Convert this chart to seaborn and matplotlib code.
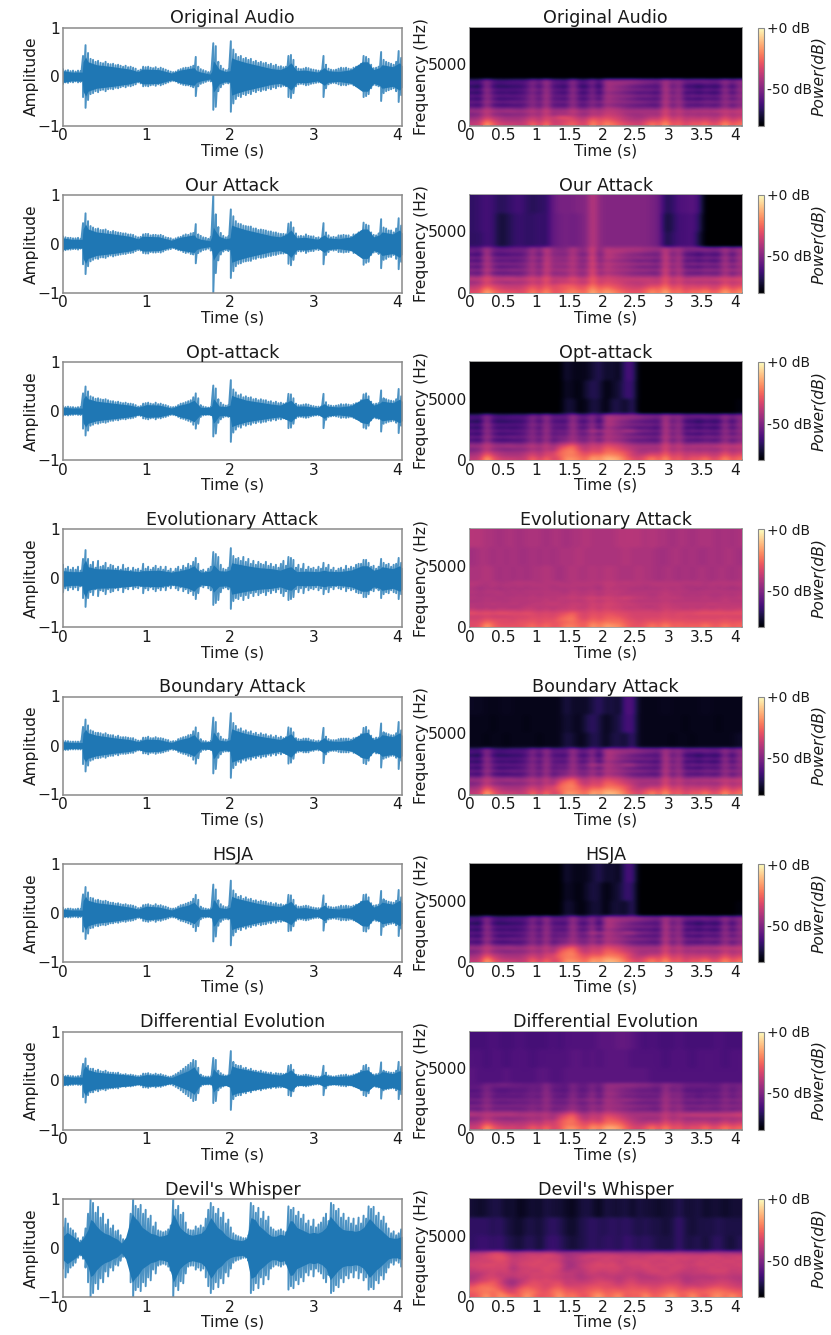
import numpy as np
import pandas as pd
import matplotlib
matplotlib.use("Agg")
import matplotlib.pyplot as plt
import seaborn as sns

W, H = 831, 1335
TITLES = ["Original Audio", "Our Attack", "Opt-attack", "Evolutionary Attack",
          "Boundary Attack", "HSJA", "Differential Evolution", "Devil's Whisper"]
ROW_TOPS = [27.5, 194.7, 362, 529.5, 696.5, 864, 1031.5, 1199]
WAVE_TICKS = [0, 1, 2, 3, 4]
SPEC_TICKS = [0, 0.5, 1, 1.5, 2, 2.5, 3, 3.5, 4]
SPEC_TICK_LABELS = ["0", "0.5", "1", "1.5", "2", "2.5", "3", "3.5", "4"]

# waveform: solid core half-height
WAVE_T = [0,.1,.2,.23,.24,.27,.3,.4,.6,.8,
          .9,.95,1.0,1.15,1.3,1.4,1.5,1.57,1.6,1.65,
          1.76,1.78,1.8,1.82,1.87,1.95,2.0,2.02,2.08,2.2,
          2.35,2.5,2.6,2.68,2.73,2.8,2.9,3.05,3.13,3.17,
          3.3,3.45,3.58,3.65,3.72,3.79,3.82,3.95,4.03,4.06]
ORIGINAL_CORE = [.12,.09,.09,.09,.30,.40,.30,.24,.20,.15, .10,.15,.15,.14,.07,.13,.16,.18,.12,.09,
                 .05,.10,.32,.28,.15,.10,.12,.38,.34,.28, .22,.16,.14,.20,.28,.12,.13,.09,.18,.12,
                 .10,.14,.30,.30,.14,.18,.24,.20,.28,.22]
OUR_CORE = [.12,.09,.09,.09,.30,.40,.30,.24,.20,.15, .10,.15,.15,.14,.07,.13,.16,.18,.12,.09,
            .06,.14,.34,.28,.15,.10,.12,.38,.34,.28, .22,.16,.14,.20,.28,.12,.13,.09,.18,.12,
            .10,.14,.30,.30,.14,.18,.24,.20,.28,.22]
OPT_CORE = [.08,.06,.06,.06,.24,.32,.25,.20,.16,.12, .08,.10,.13,.12,.06,.12,.16,.22,.16,.07,
            .08,.10,.25,.22,.10,.09,.12,.32,.28,.22, .18,.14,.12,.18,.22,.10,.10,.07,.15,.10,
            .08,.11,.24,.26,.12,.16,.20,.17,.24,.20]
EVO_CORE = [.16,.14,.14,.15,.28,.38,.24,.20,.19,.16, .14,.16,.16,.17,.13,.16,.20,.26,.20,.13,
            .15,.18,.28,.25,.16,.15,.18,.32,.30,.26, .22,.20,.17,.22,.24,.14,.15,.14,.17,.15,
            .14,.17,.26,.26,.17,.20,.24,.20,.26,.22]
BOUNDARY_CORE = [.08,.06,.06,.06,.25,.33,.26,.21,.16,.12, .08,.11,.13,.12,.06,.12,.16,.22,.16,.07,
                 .08,.11,.27,.24,.11,.09,.12,.34,.30,.24, .19,.15,.12,.19,.24,.10,.11,.07,.16,.10,
                 .08,.11,.25,.27,.12,.17,.22,.18,.26,.21]
HSJA_CORE = [.08,.06,.06,.06,.25,.34,.26,.21,.17,.12, .08,.11,.14,.12,.06,.12,.16,.22,.16,.07,
             .08,.11,.27,.25,.11,.09,.12,.34,.30,.25, .19,.15,.13,.19,.24,.10,.11,.07,.16,.10,
             .08,.11,.26,.27,.12,.17,.22,.18,.26,.21]
DE_CORE = [.10,.07,.07,.07,.22,.30,.22,.17,.14,.11, .08,.10,.12,.11,.06,.13,.20,.28,.20,.08,
           .07,.10,.24,.20,.12,.10,.14,.30,.26,.22, .17,.13,.11,.16,.22,.10,.10,.06,.13,.09,
           .08,.10,.20,.22,.11,.14,.18,.14,.20,.18]
DEVIL_T = [0,.05,.1,.15,.2,.25,.3,.33,.36,.4, .45,.5,.55,.6,.65,.7,.75,.8,.83,.86,
           .9,.95,1.0,1.05,1.1,1.15,1.2,1.25,1.3,1.32, 1.35,1.4,1.45,1.5,1.55,1.6,1.65,1.7,1.77,1.8,
           1.85,1.9,1.95,2.0,2.05,2.1,2.15,2.2,2.25,2.3, 2.35,2.4,2.45,2.5,2.55,2.6,2.65,2.72,2.75,2.8,
           2.85,2.9,2.95,3.0,3.05,3.1,3.15,3.2,3.25,3.3, 3.35,3.4,3.45,3.5,3.55,3.6,3.67,3.7,3.75,3.8,
           3.85,3.9,3.95,4.0,4.06]
DEVIL_CORE = [.24,.32,.26,.20,.12,.22,.38,.58,.55,.45, .36,.30,.27,.22,.18,.10,.22,.52,.70,.62,
              .55,.42,.36,.30,.28,.24,.25,.28,.55,.70, .60,.42,.34,.28,.26,.28,.30,.38,.62,.55,
              .42,.36,.26,.20,.17,.16,.15,.20,.62,.58, .45,.38,.30,.24,.24,.28,.26,.56,.55,.42,
              .38,.34,.30,.32,.30,.34,.42,.65,.55,.45, .38,.36,.36,.34,.36,.42,.60,.55,.45,.38,
              .30,.22,.20,.20,.24]

# waveform tips: peak height in hundredths, one value every 0.03 s
STROKE_STEP = 0.03
ORIGINAL_TIPS = [15,12,13,11,12,10,12,11,42,64, 48,36,34,30,32,28,27,30,26,25, 26,23,24,22,20,22,19,20,18,16,
                 12,14,20,19,20,18,17,19,16,18, 16,14,12,10,9,10,13,15,17,18, 18,20,22,40,20,15,13,11,9,10,
                 68,62,30,22,16,13,14,72,55,46, 40,42,36,38,34,36,30,32,28,30, 27,28,24,26,22,24,20,21,19,20,
                 42,44,34,20,16,15,16,18,17,15, 14,13,12,12,42,24,16,14,13,14, 16,18,17,18,16,15,18,20,22,26,
                 42,40,36,24,17,18,20,50,34,30, 28,26,24,30,52,38]
OUR_TIPS = [15,13,12,12,11,11,12,10,42,62, 46,36,33,30,31,28,28,29,26,24, 26,24,23,22,21,21,19,19,18,15,
            13,14,19,20,20,17,18,18,17,18, 16,13,12,11,9,11,13,14,17,19, 18,21,22,40,19,16,13,12,10,14,
            100,60,34,22,16,13,15,70,56,46, 41,40,37,36,35,35,31,31,28,29, 28,27,25,25,23,23,21,20,20,19,
            41,44,33,21,15,16,15,19,16,15, 15,12,13,11,42,23,17,13,14,13, 17,17,18,17,17,14,19,19,23,25,
            43,39,37,23,18,17,21,50,33,31, 27,27,23,31,52,37]
OPT_TIPS = [10,8,9,8,8,7,8,8,36,50, 40,30,28,25,26,24,23,24,22,20, 20,18,19,17,16,17,15,15,14,12,
            9,10,15,16,17,15,14,17,14,15, 13,12,10,8,8,9,12,15,16,18, 20,22,28,36,26,12,9,8,7,8,
            52,46,24,17,13,11,12,63,44,38, 32,34,28,30,27,28,24,25,22,24, 22,22,19,20,17,19,16,17,15,16,
            35,34,26,15,12,12,13,14,13,11, 10,9,9,9,35,18,12,11,10,11, 12,14,13,14,13,12,14,16,17,22,
            34,36,30,19,14,15,16,42,26,24, 22,21,20,24,45,30]
EVO_TIPS = [28,20,24,18,22,18,24,16,40,58, 40,28,34,22,36,24,26,32,22,28, 26,20,24,18,28,20,22,16,22,18,
            20,16,30,20,24,18,22,26,20,24, 18,24,16,20,14,20,24,18,26,22, 30,26,34,42,30,16,18,14,20,24,
            54,50,44,28,20,18,22,62,46,40, 42,36,44,34,40,30,36,28,34,30, 28,34,26,30,24,28,22,30,36,26,
            44,42,38,22,28,20,30,18,24,20, 22,18,24,20,32,22,28,18,22,16, 20,22,18,26,20,24,22,28,30,30,
            38,38,32,24,26,20,24,40,32,28, 30,24,28,30,42,32]
BOUNDARY_TIPS = [10,9,9,8,8,8,8,8,38,53, 41,31,29,26,26,25,23,25,22,21, 21,18,20,17,17,17,16,15,15,12,
                 10,10,16,16,18,15,15,17,15,15, 14,12,11,8,9,9,13,15,17,18, 21,22,29,37,26,13,9,9,7,9,
                 57,48,25,18,13,12,12,66,46,40, 33,35,29,31,27,29,24,26,22,25, 22,23,19,21,17,20,16,18,15,17,
                 37,35,27,15,13,12,14,14,14,11, 11,9,10,9,36,18,13,11,11,11, 13,14,14,14,14,12,15,16,18,23,
                 36,38,31,20,14,16,16,45,27,25, 23,21,21,25,48,31]
HSJA_TIPS = [11,8,9,9,8,8,9,8,38,53, 42,31,30,26,27,25,24,25,23,21, 21,19,20,18,17,18,16,16,15,13,
             10,11,16,17,18,16,15,18,15,16, 14,13,11,9,9,10,13,16,17,19, 21,23,29,37,27,13,10,9,8,9,
             58,48,26,18,14,12,13,66,46,39, 33,35,29,32,28,29,25,26,23,25, 23,23,20,21,18,20,17,18,16,17,
             37,36,27,16,13,13,14,15,14,12, 11,10,10,10,36,19,13,12,11,12, 13,15,14,15,14,13,15,17,18,23,
             37,38,32,20,15,16,17,45,28,25, 23,22,21,25,47,32]
DE_TIPS = [12,9,10,9,9,8,9,9,34,45, 30,24,24,20,22,19,18,20,17,16, 16,15,16,13,12,13,11,12,11,10,
           9,10,14,14,15,13,12,14,12,13, 11,10,8,8,10,13,16,20,24,28, 32,36,42,40,26,12,9,8,8,8,
           46,42,20,15,12,10,11,60,38,32, 30,30,25,26,22,24,20,20,18,20, 17,17,15,16,13,15,14,14,13,14,
           30,32,22,12,11,10,11,12,11,10, 9,8,8,8,30,16,10,9,8,9, 10,11,11,12,10,10,12,13,15,20,
           30,32,26,15,12,13,14,37,20,18, 17,16,16,20,38,28]
DEVIL_TIPS = [42,60,50,40,36,30,20,15,22,40, 70,100,92,72,84,62,70,48,58,40, 46,34,36,26,18,15,22,70,100,86,
              80,88,70,78,60,66,44,52,36,34, 32,34,38,46,100,78,86,68,72,52, 38,36,36,44,40,46,42,60,78,92,
              84,70,80,62,72,50,58,42,30,26, 24,22,20,20,26,92,86,72,82,60, 74,56,64,42,38,34,36,38,34,32,
              85,78,82,66,74,60,68,50,56,44, 58,42,48,52,62,70,55,92,88,76, 80,62,70,56,62,50,60,46,62,50,
              66,60,85,80,84,66,72,56,64,50, 40,30,34,26,30,38]

# spectrograms: dB below full scale, 0.1 s columns, 250 Hz rows from 0 Hz up to 3750 Hz
ORIGINAL_LOW = [
[38,36,16,28,34,36,36,38,36,24, 36,22,36,34,30,26,32,34,18,30, 20,24,28,32,34,36,30,22,30,16, 32,26,34,28,30,24,32,30,18,30, 24],
[42,40,26,34,40,42,42,42,38,32, 40,30,38,36,34,30,36,36,24,32, 26,30,34,38,40,40,36,32,34,24, 36,30,38,34,36,32,38,36,26,36, 30],
[46,44,34,40,42,44,44,44,42,36, 42,32,38,30,30,34,40,40,32,36, 32,34,36,40,42,44,42,38,40,28, 40,34,40,38,40,38,40,40,32,40, 36],
[52,50,38,48,50,52,50,50,48,42, 48,36,48,44,46,40,46,48,40,44, 36,38,40,44,46,46,44,44,46,32, 46,38,46,44,46,44,46,46,38,44, 40],
[44,44,36,42,44,42,42,44,42,38, 44,34,44,42,42,36,42,44,38,42, 38,38,40,42,42,42,42,42,42,32, 42,36,42,40,40,40,40,38,36,38, 36],
[52,54,40,50,52,52,52,54,50,44, 52,38,52,50,52,42,52,52,44,50, 40,42,44,48,50,50,50,50,52,34, 50,40,52,50,50,48,50,50,42,50, 44],
[62,66,46,62,64,64,62,62,58,48, 60,42,60,60,62,46,60,60,50,62, 46,50,52,54,56,58,58,60,60,38, 58,44,60,60,62,58,60,60,46,60, 50],
[54,56,42,52,54,54,52,54,52,46, 54,40,54,52,54,44,54,54,46,52, 42,44,46,46,48,48,50,52,52,36, 50,42,52,52,52,50,50,52,44,48, 46],
[64,68,46,60,66,64,64,62,58,48, 62,42,60,60,64,46,62,64,50,66, 44,48,50,54,56,60,60,60,62,38, 58,44,64,62,66,60,62,62,46,62, 50],
[56,58,44,54,56,56,56,56,54,46, 56,40,56,54,56,44,56,56,48,58, 42,44,46,46,48,50,50,52,54,38, 50,44,56,52,54,52,54,54,44,52, 46],
[66,70,46,62,66,64,66,64,60,50, 64,42,60,62,66,46,64,66,50,70, 46,50,52,56,58,62,60,62,64,38, 60,44,66,62,68,62,66,66,46,66, 50],
[58,60,44,56,58,58,58,58,56,46, 56,42,56,56,58,44,56,58,48,62, 42,44,46,48,50,50,52,52,56,38, 52,44,56,56,58,54,56,56,44,56, 46],
[68,72,46,66,68,68,66,66,62,50, 66,44,62,64,68,46,66,68,52,72, 44,46,50,52,56,58,60,60,62,38, 60,46,66,64,70,64,66,68,48,68, 50],
[60,64,46,60,62,60,60,60,58,48, 60,42,58,58,60,46,60,60,50,66, 42,44,44,46,48,50,52,54,56,40, 54,46,58,58,60,56,58,58,46,58, 48],
[62,62,48,60,62,62,60,60,60,50, 58,44,58,58,62,46,60,60,50,62, 44,46,46,46,46,48,50,50,52,42, 50,46,54,52,52,52,54,54,46,54, 48],
]
OUR_LOW = [
[32,30,14,24,28,30,30,32,30,20, 30,18,30,28,24,20,24,26,12,24, 16,20,24,28,30,30,26,18,26,12, 28,22,30,24,26,20,28,26,14,26, 20],
[36,34,22,30,34,36,36,36,32,26, 34,24,32,30,28,24,30,28,18,28, 22,26,30,32,34,34,30,26,28,20, 32,26,34,30,32,28,34,32,22,32, 26],
[40,38,30,34,36,38,38,38,36,30, 36,28,34,30,28,28,32,32,22,32, 28,30,32,36,36,38,36,32,34,24, 36,30,36,34,36,34,36,36,28,36, 32],
[46,44,32,42,44,46,44,44,42,36, 42,30,42,38,38,34,38,40,26,38, 32,34,36,38,40,40,38,38,40,28, 42,34,42,40,42,40,42,42,34,40, 36],
[38,38,30,36,38,36,36,38,36,32, 38,28,38,36,36,30,36,36,26,36, 34,34,36,36,36,36,36,36,38,28, 38,32,38,36,36,36,36,34,32,34, 32],
[46,48,34,44,46,46,46,48,44,38, 46,32,44,42,44,36,44,44,28,42, 36,38,40,42,44,44,44,44,46,30, 46,36,48,46,46,44,46,46,38,46, 40],
[56,60,40,56,58,58,56,56,52,42, 54,36,50,48,48,40,48,48,30,50, 42,44,46,48,50,52,52,54,54,32, 54,40,56,56,58,54,56,56,42,56, 46],
[48,50,36,46,48,48,46,48,46,40, 48,34,44,42,42,38,44,44,30,44, 38,40,42,42,44,44,44,46,46,32, 46,38,48,48,48,46,46,48,40,44, 42],
[58,62,40,54,60,58,58,56,52,42, 56,36,48,48,50,40,50,50,32,52, 40,44,46,48,50,54,54,54,56,34, 54,40,60,58,62,56,58,58,42,58, 46],
[50,52,38,48,50,50,50,50,48,40, 50,34,46,44,44,38,46,46,30,46, 38,40,42,42,44,44,44,46,48,34, 46,40,52,48,50,48,50,50,40,48, 42],
[60,64,40,56,60,58,60,58,54,44, 58,36,48,48,50,40,50,52,32,54, 42,46,48,50,52,56,54,56,58,34, 56,40,62,58,64,58,62,62,42,62, 46],
[52,54,38,50,52,52,52,52,50,40, 50,36,46,46,46,38,46,46,30,50, 38,40,42,44,46,44,46,46,50,34, 48,40,52,52,54,50,52,52,40,52, 42],
[62,66,40,60,62,62,60,60,56,44, 60,38,50,50,52,40,52,54,32,56, 40,42,46,48,50,52,54,54,56,34, 56,42,62,60,66,60,62,64,44,64, 46],
[54,58,40,54,56,54,54,54,52,42, 54,36,48,48,48,40,48,48,32,52, 38,40,40,42,44,44,46,48,50,36, 50,42,54,54,56,52,54,54,42,54, 44],
[56,56,42,54,56,56,54,54,54,44, 52,38,48,50,50,40,48,48,32,50, 40,42,42,42,42,42,44,44,46,38, 46,42,50,48,48,48,50,50,42,50, 44],
]
OPT_LOW = [
[38,36,14,28,34,36,36,38,36,24, 36,24,34,30,18,18,22,26,14,20, 12,12,16,24,30,34,28,20,30,16, 32,26,34,28,30,22,32,30,18,30, 24],
[42,40,24,34,40,42,42,42,38,32, 40,32,34,26,22,22,26,30,22,24, 18,20,22,28,36,38,34,30,34,24, 36,30,38,34,36,32,38,36,26,36, 30],
[46,44,32,40,42,44,44,44,42,36, 42,34,36,26,22,20,28,34,28,32, 24,24,26,30,36,42,42,38,40,28, 40,34,40,38,40,38,40,40,32,40, 36],
[52,50,38,48,50,52,50,50,48,42, 48,38,46,30,24,22,34,40,32,36, 26,28,32,36,40,44,44,44,46,32, 46,38,46,44,46,44,46,46,38,44, 40],
[44,44,36,42,44,42,42,44,42,38, 44,36,44,36,30,24,36,40,34,38, 30,32,34,38,40,42,42,42,42,32, 42,36,42,40,40,40,40,38,36,38, 36],
[52,54,40,50,52,52,52,54,50,44, 52,40,52,44,42,36,44,46,38,44, 36,38,40,44,48,50,50,50,52,34, 50,40,52,50,50,48,50,50,42,50, 44],
[62,66,46,62,64,64,62,62,58,48, 60,44,60,54,52,44,52,54,44,58, 42,46,48,52,56,58,58,60,60,38, 58,44,60,60,62,58,60,60,46,60, 50],
[54,56,42,52,54,54,52,54,52,46, 54,42,54,50,50,42,50,50,42,48, 40,42,44,46,48,48,50,52,52,36, 50,42,52,52,52,50,50,52,44,48, 46],
[64,68,46,60,66,64,64,62,58,48, 62,44,60,56,58,44,56,58,46,62, 42,46,48,54,56,60,60,60,62,38, 58,44,64,62,66,60,62,62,46,62, 50],
[56,58,44,54,56,56,56,56,54,46, 56,42,56,52,54,42,52,50,38,46, 40,42,46,40,42,48,50,52,54,38, 50,44,56,52,54,52,54,54,44,52, 46],
[66,70,46,62,66,64,66,64,60,50, 64,44,60,60,62,44,60,62,46,68, 44,48,52,56,58,62,60,62,64,38, 60,44,66,62,68,62,66,66,46,66, 50],
[58,60,44,56,58,58,58,58,56,46, 56,44,56,54,56,42,54,54,44,58, 40,42,46,48,50,50,52,52,56,38, 52,44,56,56,58,54,56,56,44,56, 46],
[68,72,46,66,68,68,66,66,62,50, 66,46,62,62,64,44,62,64,48,70, 42,44,50,52,56,58,60,60,62,38, 60,46,66,64,70,64,66,68,48,68, 50],
[60,64,46,60,62,60,60,60,58,48, 60,44,58,56,58,44,56,56,46,64, 40,42,44,46,48,50,52,54,56,40, 54,46,58,58,60,56,58,58,46,58, 48],
[62,62,48,60,62,62,60,60,60,50, 58,46,58,56,58,44,56,58,48,60, 42,44,46,46,46,48,50,50,52,42, 50,46,54,52,52,52,54,54,46,54, 48],
]
EVO_LOW = [
[32,30,16,26,30,30,30,30,28,24, 30,24,30,28,22,22,26,28,16,24, 16,18,20,26,30,30,28,22,28,20, 28,26,28,26,28,22,28,28,22,28, 26],
[32,32,24,28,32,32,32,30,30,28, 32,28,30,28,26,24,28,28,22,26, 22,24,24,28,30,32,30,28,30,26, 30,28,30,30,30,28,30,30,28,30, 28],
[34,34,30,32,32,32,34,32,32,30, 32,30,32,26,24,22,30,32,26,30, 26,26,26,30,32,34,32,32,32,30, 32,32,32,32,32,32,32,32,30,32, 32],
[36,36,34,36,36,36,34,34,34,32, 34,32,34,30,26,24,32,34,28,32, 28,28,30,32,34,34,34,34,34,32, 34,32,34,34,34,34,34,34,34,34, 34],
[30,32,30,32,30,30,32,32,30,32, 34,32,34,32,30,26,32,34,30,32, 30,30,32,32,34,34,34,34,34,32, 34,32,32,32,30,30,30,30,30,30, 30],
[36,38,36,38,36,38,36,38,36,36, 38,36,38,36,36,34,36,36,32,36, 32,34,34,36,36,36,36,36,38,34, 36,36,36,36,36,34,36,34,36,36, 34],
[40,42,40,42,40,40,42,40,38,38, 40,38,40,38,38,36,38,38,34,38, 34,36,36,38,38,38,40,40,38,36, 38,38,40,38,40,38,40,38,38,38, 38],
[40,40,40,38,40,40,38,40,40,38, 38,38,36,38,38,36,36,38,34,36, 34,34,36,36,36,38,38,38,38,36, 38,38,38,38,38,38,36,38,38,38, 38],
[42,42,40,42,40,42,40,40,40,40, 40,38,40,38,40,38,40,38,36,40, 36,36,38,38,40,40,40,40,40,38, 40,40,40,40,40,40,40,40,38,40, 40],
[40,42,40,40,42,40,40,40,40,38, 40,38,40,38,38,36,38,36,34,36, 34,36,36,34,36,38,38,40,38,38, 38,38,40,40,40,38,40,40,38,40, 38],
[42,42,42,42,40,42,42,40,42,40, 42,40,40,40,40,38,40,40,38,42, 38,38,40,40,40,40,40,42,40,38, 40,40,42,40,42,40,42,42,40,42, 40],
[40,42,40,40,40,42,40,42,40,40, 40,40,40,40,42,38,40,40,38,40, 38,38,38,40,40,40,40,40,40,38, 40,40,40,42,40,40,40,40,40,40, 40],
[42,44,42,42,44,42,42,42,42,42, 42,40,42,42,42,40,42,42,40,44, 38,40,40,40,42,42,42,42,42,40, 42,40,42,42,44,42,42,42,42,44, 42],
[40,42,42,40,42,40,42,40,42,40, 40,40,42,40,40,40,40,40,40,42, 38,38,40,40,40,40,42,40,40,40, 40,40,42,42,40,42,40,42,40,42, 40],
[40,40,42,40,42,42,40,40,40,40, 42,40,40,40,42,40,40,40,40,40, 38,38,40,38,40,40,40,40,40,40, 40,40,40,40,40,42,40,40,40,40, 40],
]
DE_LOW = [
[36,34,16,28,32,34,34,36,34,26, 34,24,34,30,20,18,24,28,16,24, 14,14,18,26,32,34,30,22,32,20, 32,28,34,30,32,24,32,30,22,30, 26],
[40,38,26,34,38,40,38,40,38,34, 38,32,36,30,24,24,28,32,24,28, 22,22,24,30,36,38,36,32,36,28, 36,32,38,36,36,32,38,36,30,36, 32],
[44,42,34,40,42,42,44,42,42,38, 42,34,38,30,24,22,30,36,30,36, 26,26,28,34,38,42,42,40,42,32, 40,36,42,40,40,40,42,42,36,42, 38],
[50,48,40,46,48,50,48,48,46,44, 46,40,46,34,28,24,36,42,34,40, 28,30,34,38,42,44,46,46,46,36, 46,40,46,46,46,44,46,46,42,44, 42],
[40,42,38,40,40,40,40,42,40,40, 42,38,44,38,32,26,38,42,36,40, 32,34,36,40,42,42,42,42,42,36, 42,38,38,36,36,36,36,36,36,36, 34],
[44,46,42,44,44,44,44,46,46,44, 46,42,48,46,42,36,46,48,40,46, 38,40,42,44,46,46,46,46,48,38, 46,42,46,46,46,46,46,46,44,44, 42],
[56,58,48,56,56,56,56,56,54,50, 56,46,56,54,52,46,52,54,46,54, 44,46,48,50,52,54,54,56,56,42, 54,46,56,56,56,54,56,56,50,56, 52],
[50,50,44,50,50,50,50,50,50,48, 50,44,50,50,50,44,50,50,44,48, 42,44,44,46,46,48,48,50,50,40, 48,44,50,50,50,48,50,50,46,48, 48],
[58,58,48,56,58,58,56,56,56,52, 56,46,56,56,56,48,56,56,48,58, 44,46,48,52,54,56,56,56,56,42, 54,48,58,56,58,56,56,56,50,56, 52],
[52,52,46,52,52,52,52,52,52,50, 52,44,52,52,52,46,50,48,44,50, 42,44,46,44,46,48,50,50,50,42, 48,46,52,50,52,50,52,52,46,50, 48],
[58,60,48,58,58,58,58,58,56,54, 58,46,56,58,58,48,58,56,48,60, 46,48,50,54,54,56,56,56,56,42, 54,48,58,56,60,56,58,58,50,58, 52],
[56,56,48,54,56,56,54,56,54,52, 54,46,54,54,56,48,54,54,46,56, 44,44,48,50,50,52,52,52,54,44, 50,48,54,54,56,54,54,54,48,54, 50],
[60,60,50,58,60,60,58,58,58,54, 58,46,58,58,60,50,58,58,50,60, 46,48,50,52,54,56,56,56,58,44, 56,50,60,58,60,58,58,58,50,58, 52],
[56,56,50,56,56,56,56,56,56,54, 56,48,56,56,58,50,56,56,50,58, 46,46,48,50,50,52,52,54,56,46, 54,50,56,56,56,56,56,56,50,56, 52],
[58,58,52,54,52,52,54,54,56,54, 56,48,56,56,58,50,56,56,50,56, 46,46,46,46,46,48,48,50,52,46, 50,50,54,54,54,54,56,56,50,54, 52],
]
DEVIL_LOW = [
[30,26,16,28,18,22,26,28,16,24, 30,28,26,16,26,22,28,30,22,16, 26,24,18,30,26,28,18,28,26,22, 16,26,28,18,26,30,22,18,26,18, 26],
[28,24,22,26,20,30,34,26,22,22, 28,30,24,20,28,26,30,28,24,22, 28,26,24,28,26,26,24,30,28,26, 22,28,26,24,28,26,24,22,24,26, 28],
[26,24,22,22,28,34,36,28,24,26, 30,32,26,24,30,30,32,30,28,26, 30,28,30,30,28,30,28,32,30,28, 26,30,32,28,30,30,26,26,28,30, 32],
[30,24,24,26,30,38,42,34,28,30, 30,34,30,28,34,34,34,32,30,30, 32,32,34,32,30,32,32,34,34,30, 30,32,36,34,36,34,32,30,32,34, 36],
[36,30,28,26,34,42,46,38,34,30, 32,34,32,30,38,36,36,36,34,32, 32,34,38,34,32,36,36,36,36,34, 34,34,40,38,38,36,36,34,34,36, 38],
[40,36,34,30,34,42,44,40,36,32, 34,32,34,34,38,36,40,38,36,34, 36,36,40,36,34,38,38,38,38,36, 36,36,42,40,38,38,38,36,36,38, 40],
[42,38,34,34,36,38,40,36,38,34, 36,34,36,36,40,38,42,40,38,36, 38,38,40,38,36,40,40,40,38,36, 38,38,42,40,40,40,40,38,38,40, 40],
[40,40,36,34,38,36,38,36,36,34, 34,34,34,36,38,38,42,38,36,38, 38,36,38,38,38,40,38,36,36,34, 36,38,40,38,38,38,36,36,36,38, 38],
[38,36,36,34,36,34,40,36,34,36, 36,32,34,36,42,38,40,38,34,36, 36,34,36,38,36,38,36,34,34,36, 34,36,38,38,36,36,34,34,34,38, 36],
[36,34,34,34,34,34,42,36,36,34, 34,32,34,34,44,42,40,36,34,34, 34,34,34,38,36,36,34,34,36,36, 34,34,36,38,36,36,34,36,34,36, 36],
[34,34,32,32,34,32,40,34,34,32, 34,34,32,34,42,44,38,36,34,32, 34,32,36,36,34,36,32,36,34,34, 36,34,36,36,34,34,36,34,36,36, 34],
[36,34,36,34,32,34,38,36,34,34, 32,34,34,36,44,42,40,38,36,34, 36,34,38,36,34,34,34,36,36,36, 34,36,36,38,34,36,34,36,34,34, 36],
[36,36,34,32,30,32,38,36,36,34, 34,34,36,36,42,42,38,36,38,36, 34,36,36,36,36,36,36,34,36,34, 34,36,34,36,36,34,36,34,36,36, 34],
[38,36,34,32,30,34,40,38,36,34, 36,32,34,36,44,42,40,36,34,36, 36,34,36,38,36,38,36,36,34,36, 36,34,36,36,36,36,34,36,38,36, 36],
[42,42,40,34,34,40,44,42,40,40, 40,40,40,46,46,44,44,46,44,42, 42,44,44,44,44,44,46,44,44,44, 44,44,44,44,46,44,44,44,44,44, 46],
]

# above 3750 Hz: one row per band (3750-5000, 5000-6500, 6500-8000 Hz)
HIGH_REPEATS = [5, 6, 6]
ORIGINAL_HIGH = [[80] * 41, [80] * 41, [80] * 41]
OUR_HIGH = [
[66,66,62,64,72,70,66,64,66,66, 64,66,56,54,52,54,52,50,38,48, 50,50,50,50,50,50,50,52,54,70, 66,62,62,60,70,80,80,80,80,80, 80],
[66,64,62,64,72,70,66,64,66,66, 64,66,56,54,52,54,52,50,38,48, 50,50,50,50,50,50,50,52,54,72, 68,62,62,60,66,80,80,80,80,80, 80],
[66,64,62,64,68,66,64,62,66,68, 66,66,56,52,52,52,50,50,38,48, 50,50,50,50,50,50,50,52,54,68, 66,60,60,58,62,80,80,80,80,80, 80],
]
OPT_HIGH = [
[80,80,80,80,80,80,80,80,80,80, 80,80,80,80,72,72,78,76,70,72, 78,70,70,74,66,80,80,80,80,80, 80,80,80,80,80,80,80,80,80,80, 78],
[80,80,80,80,80,80,80,80,80,80, 80,80,80,80,74,76,78,72,68,70, 78,74,72,64,64,80,80,80,80,80, 80,80,80,80,80,80,80,80,80,80, 80],
[80,80,80,80,80,80,80,80,80,80, 80,80,80,80,72,76,76,76,72,68, 74,72,76,62,62,80,80,80,80,80, 80,80,80,80,80,80,80,80,80,80, 80],
]
EVO_HIGH = [
[42,42,40,42,44,42,44,42,44,42, 42,40,42,44,42,40,42,42,40,42, 40,40,42,42,42,40,42,42,44,42, 42,44,42,44,42,42,44,42,42,44, 42],
[44,42,42,44,42,44,42,44,44,42, 44,42,44,42,42,42,40,42,42,42, 42,42,42,40,42,42,42,42,44,44, 42,42,44,42,44,44,42,44,42,42, 44],
[40,40,42,42,44,42,42,44,42,42, 42,44,42,42,44,42,42,40,42,42, 42,42,40,40,40,40,42,40,42,42, 44,42,42,44,42,42,42,44,42,44, 42],
]
BOUNDARY_HIGH = [
[76,76,77,76,76,77,76,76,76,76, 77,76,76,76,70,72,76,74,68,70, 76,70,70,72,64,76,76,76,76,76, 77,76,76,77,76,76,76,76,76,76, 74],
[76,76,76,77,76,76,76,76,77,76, 76,76,76,76,72,74,76,70,66,70, 76,72,70,62,62,76,76,76,76,76, 76,76,77,76,76,76,76,77,76,76, 76],
[75,75,76,76,76,75,76,76,76,76, 76,76,76,76,70,74,74,74,70,66, 72,70,74,60,60,76,76,76,76,75, 76,76,76,76,76,75,76,76,76,76, 76],
]
HSJA_HIGH = [
[80,80,80,80,80,80,80,80,80,80, 80,80,80,80,72,74,78,76,72,72, 78,72,72,74,66,80,80,80,80,80, 80,80,80,80,80,80,80,80,80,80, 78],
[80,80,80,80,80,80,80,80,80,80, 80,80,80,80,74,76,78,74,70,72, 78,74,72,64,66,80,80,80,80,80, 80,80,80,80,80,80,80,80,80,80, 80],
[80,80,80,80,80,80,80,80,80,80, 80,80,80,80,72,76,76,76,72,68, 74,72,76,62,62,80,80,80,80,80, 80,80,80,80,80,80,80,80,80,80, 80],
]
DE_HIGH = [
[58,60,60,60,60,58,60,60,60,60, 58,58,60,60,58,58,58,58,58,58, 58,58,58,58,58,58,58,60,60,60, 60,60,60,60,60,60,60,60,60,60, 60],
[60,60,62,60,60,62,60,60,60,62, 60,60,60,60,60,58,58,60,58,60, 58,58,58,58,60,60,60,60,60,62, 60,60,60,62,60,60,60,60,62,60, 60],
[62,62,62,60,62,62,62,60,62,62, 62,62,60,62,60,60,60,60,60,58, 58,58,56,56,58,60,62,60,62,62, 62,60,62,62,62,62,62,60,62,62, 62],
]
DEVIL_HIGH = [
[66,64,64,66,64,68,70,72,68,68, 72,66,64,66,70,72,70,68,66,68, 66,66,68,64,66,68,66,68,70,70, 70,64,70,70,68,72,68,66,70,72, 68],
[66,66,66,68,66,70,72,74,70,70, 72,68,66,68,72,74,70,68,66,68, 68,66,68,66,68,70,68,70,70,72, 70,64,70,72,70,70,70,68,70,70, 70],
[72,74,72,70,70,74,72,76,74,72, 74,70,72,72,74,76,72,70,72,76, 70,72,72,70,74,70,72,72,74,72, 72,68,72,72,70,74,72,72,74,72, 72],
]

WAVES = [(WAVE_T, ORIGINAL_CORE, ORIGINAL_TIPS), (WAVE_T, OUR_CORE, OUR_TIPS),
         (WAVE_T, OPT_CORE, OPT_TIPS), (WAVE_T, EVO_CORE, EVO_TIPS),
         (WAVE_T, BOUNDARY_CORE, BOUNDARY_TIPS), (WAVE_T, HSJA_CORE, HSJA_TIPS),
         (WAVE_T, DE_CORE, DE_TIPS), (DEVIL_T, DEVIL_CORE, DEVIL_TIPS)]
SPECS = [(ORIGINAL_LOW, ORIGINAL_HIGH), (OUR_LOW, OUR_HIGH), (OPT_LOW, OPT_HIGH),
         (EVO_LOW, EVO_HIGH), (OPT_LOW, BOUNDARY_HIGH), (OPT_LOW, HSJA_HIGH),
         (DE_LOW, DE_HIGH), (DEVIL_LOW, DEVIL_HIGH)]

sns.set_style("white")
plt.rcParams["font.family"] = ["DejaVu Sans"]
plt.rcParams["text.color"] = "#1a1a1a"
plt.rcParams["axes.labelcolor"] = "#1a1a1a"
plt.rcParams["xtick.color"] = "#1a1a1a"
plt.rcParams["ytick.color"] = "#1a1a1a"

TICK_SIZE = 11.2
CBAR_TICK_SIZE = 9.9
TITLE_SIZE = 12.6
LABEL_SIZE = 11.2
SPINE = "#8a8a8a"
BLUE = "#1f77b4"


def make_axes(fig, left, top, right, height):
    return fig.add_axes([left / W, 1 - (top + height) / H, (right - left) / W, height / H])


def style_axes(ax):
    for s in ax.spines.values():
        s.set_visible(True)
        s.set_color(SPINE)
        s.set_linewidth(1.1)
    ax.tick_params(length=0, pad=2, labelsize=TICK_SIZE)


def core_band(ax, times, half):
    # two samples per time, the band spans them
    df = pd.DataFrame({
        "time": list(times) * 2,
        "amp": list(half) + [-v for v in half],
    })
    sns.lineplot(data=df, x="time", y="amp", ax=ax, color=BLUE, linewidth=0,
                 errorbar=("pi", 100), err_kws={"alpha": 1.0, "linewidth": 0}, legend=False)


def tip_strokes(ax, tips):
    # up and down through each tip height, like a drawn waveform
    xs, ys = [], []
    for k, v in enumerate(tips):
        xs += [k * STROKE_STEP, k * STROKE_STEP]
        ys += [v / 100, -v / 100]
    df = pd.DataFrame({"time": xs, "amp": ys})
    sns.lineplot(data=df, x="time", y="amp", ax=ax, color=BLUE, linewidth=1.4, alpha=0.8,
                 estimator=None, sort=False, legend=False)


fig = plt.figure(figsize=(W / 100, H / 100), dpi=100)

for title, top, wave, spec in zip(TITLES, ROW_TOPS, WAVES, SPECS):
    # waveform
    ax = make_axes(fig, 63, top, 402, 98)
    times, core, tips = wave
    tip_strokes(ax, tips)
    core_band(ax, times, core)
    ax.set_xlim(0, 4.06)
    ax.set_ylim(-1, 1)
    ax.set_xticks(WAVE_TICKS)
    ax.set_yticks([-1, 0, 1])
    ax.set_xlabel("Time (s)", fontsize=LABEL_SIZE, labelpad=0)
    ax.set_ylabel("Amplitude", fontsize=LABEL_SIZE)
    ax.yaxis.set_label_coords(-0.071, 0.5)
    ax.set_title(title, fontsize=TITLE_SIZE, pad=3)
    style_axes(ax)

    # spectrogram
    ax = make_axes(fig, 470, top, 741.5, 98)
    cax = make_axes(fig, 758, top, 763.5, 98)
    low, high = spec
    cells = np.vstack([np.array(low), np.repeat(np.array(high), HIGH_REPEATS, axis=0)]) * -1.0
    sns.heatmap(cells, ax=ax, cbar_ax=cax, cmap="magma", vmin=-80, vmax=0,
                xticklabels=False, yticklabels=False,
                cbar_kws={"format": "%+2.0f dB", "ticks": [0, -50]})
    # same cells again, smoothed like the blurred spectrogram in the reference
    ax.imshow(cells, extent=(0, 41, 0, 32), origin="lower", aspect="auto", cmap="magma",
              vmin=-80, vmax=0, interpolation="bicubic", zorder=3)
    ax.set_xlim(0, 41)
    ax.set_ylim(0, 32)
    ax.set_xticks([t * 10 for t in SPEC_TICKS])
    ax.set_xticklabels(SPEC_TICK_LABELS, rotation=0)
    ax.set_yticks([0, 20])
    ax.set_yticklabels(["0", "5000"], rotation=0)
    ax.set_xlabel("Time (s)", fontsize=LABEL_SIZE, labelpad=0)
    ax.set_ylabel("Frequency (Hz)", fontsize=LABEL_SIZE)
    ax.yaxis.set_label_coords(-0.151, 0.5)
    ax.set_title(title, fontsize=TITLE_SIZE, pad=3)
    style_axes(ax)
    cb = ax.collections[0].colorbar
    cb.outline.set_visible(True)
    cb.outline.set_edgecolor(SPINE)
    cb.outline.set_linewidth(0.8)
    cb.ax.tick_params(length=0, pad=2.5, labelsize=CBAR_TICK_SIZE)
    cb.set_label("Power(dB)", fontsize=LABEL_SIZE, style="italic")
    cb.ax.yaxis.set_label_coords(9.7, 0.5)

fig.savefig("out.png", dpi=100)
